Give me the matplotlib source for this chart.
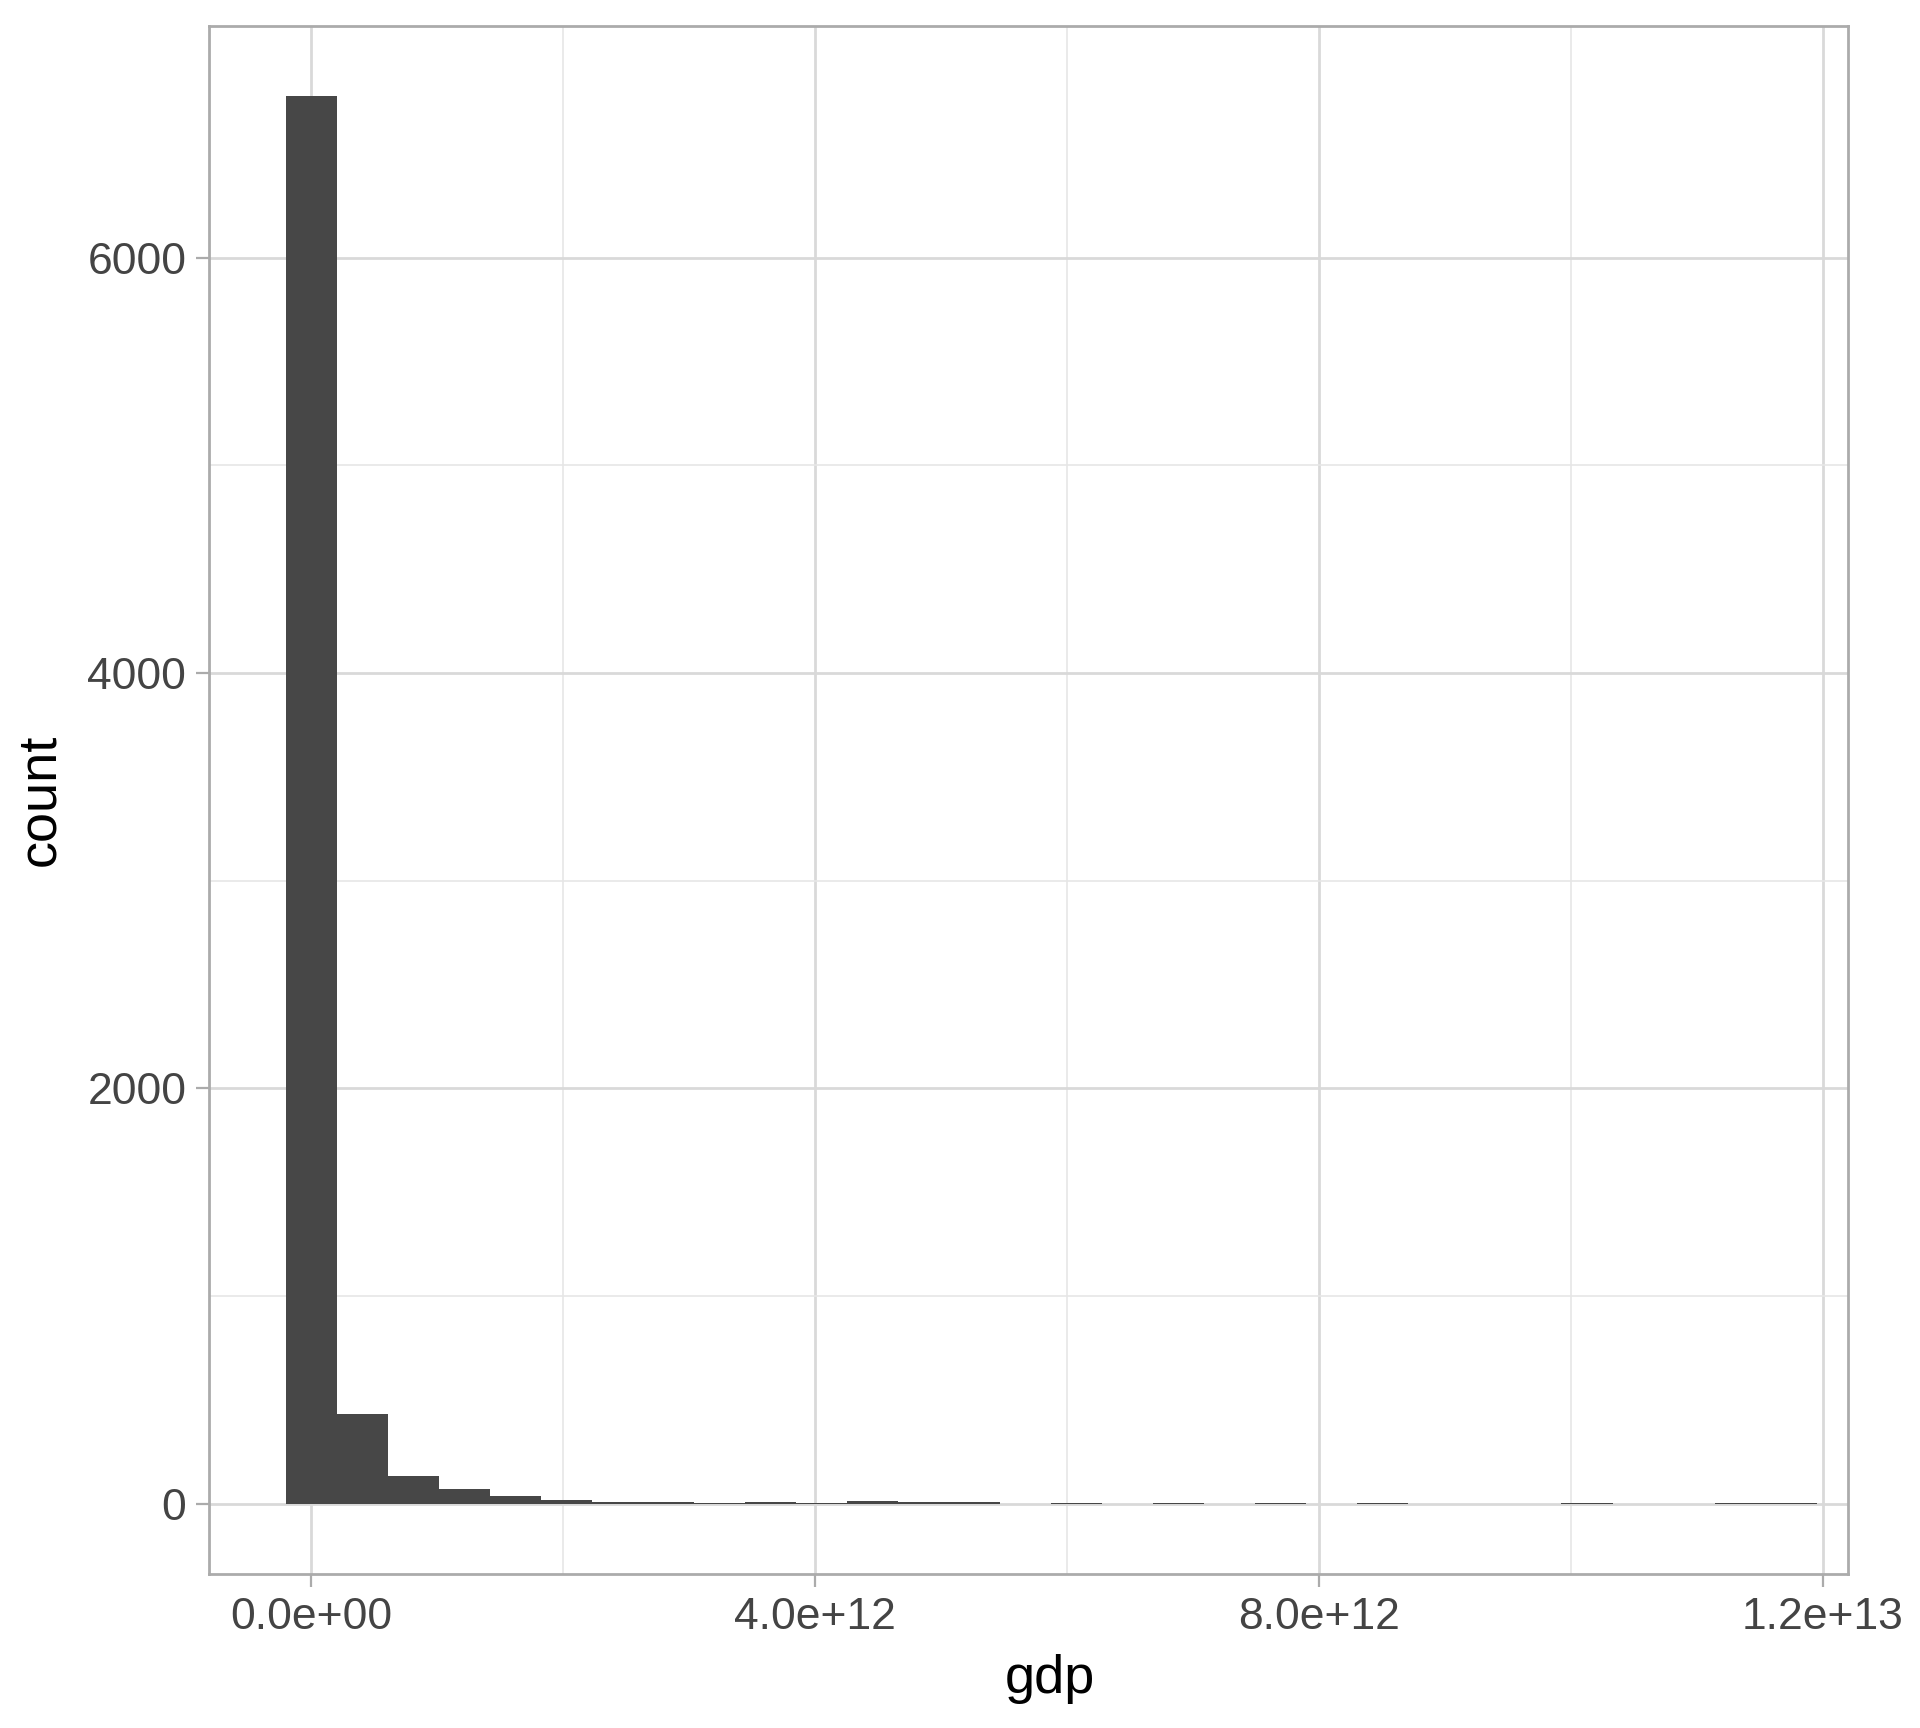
import numpy as np
import matplotlib
matplotlib.use("Agg")
import matplotlib.pyplot as plt
from matplotlib.ticker import FixedLocator, FuncFormatter

# histogram of gdp, 30 bins (counts)
gdp_min = 0.0
gdp_max = 11.75e12
bin_counts = [6777, 433, 133, 72, 37, 19, 10, 10, 4, 9,
              4, 14, 9, 9, 0, 2, 0, 5, 0, 2,
              0, 3, 0, 0, 0, 2, 0, 0, 4, 4]

x_ticks = [0.0, 4e12, 8e12, 1.2e13]
x_tick_labels = ["0.0e+00", "4.0e+12", "8.0e+12", "1.2e+13"]
y_ticks = [0, 2000, 4000, 6000]


def main():
    plt.rcParams['font.family'] = ['Liberation Sans', 'DejaVu Sans']

    n_bins = len(bin_counts)
    width = (gdp_max - gdp_min) / (n_bins - 1)
    centers = gdp_min + width * np.arange(n_bins)

    fig = plt.figure(figsize=(9.6, 8.64), dpi=200)
    ax = fig.add_axes([0.1089, 0.0891, 0.9624 - 0.1089, 0.9851 - 0.0891])

    ax.bar(centers, bin_counts, width=width, color='#474747', linewidth=0, zorder=3)

    ax.set_xlim(-0.81e12, 12.2e12)
    ax.set_ylim(-339, 7116)

    ax.xaxis.set_major_locator(FixedLocator(x_ticks))
    ax.xaxis.set_major_formatter(FuncFormatter(lambda v, p: x_tick_labels[x_ticks.index(v)] if v in x_ticks else ""))
    ax.xaxis.set_minor_locator(FixedLocator([2e12, 6e12, 10e12]))
    ax.yaxis.set_major_locator(FixedLocator(y_ticks))
    ax.yaxis.set_minor_locator(FixedLocator([1000, 3000, 5000]))

    ax.grid(which='major', color='#D9D9D9', linewidth=1.0, zorder=0)
    ax.grid(which='minor', color='#E6E6E6', linewidth=0.6, zorder=0)
    ax.set_axisbelow(True)

    for s in ax.spines.values():
        s.set_color('#ABABAB')
        s.set_linewidth(1.0)

    ax.tick_params(which='major', length=4.7, width=0.8, color='#ABABAB',
                   labelsize=16, labelcolor='#444444', pad=3.5)
    ax.tick_params(which='minor', length=0)

    ax.set_xlabel('gdp', fontsize=19.5, color='black', labelpad=6)
    ax.set_ylabel('count', fontsize=19.5, color='black', labelpad=8)
    ax.xaxis.label.set_x(0.513)

    fig.savefig('out.png', dpi=200, facecolor='white')


if __name__ == "__main__":
    main()
